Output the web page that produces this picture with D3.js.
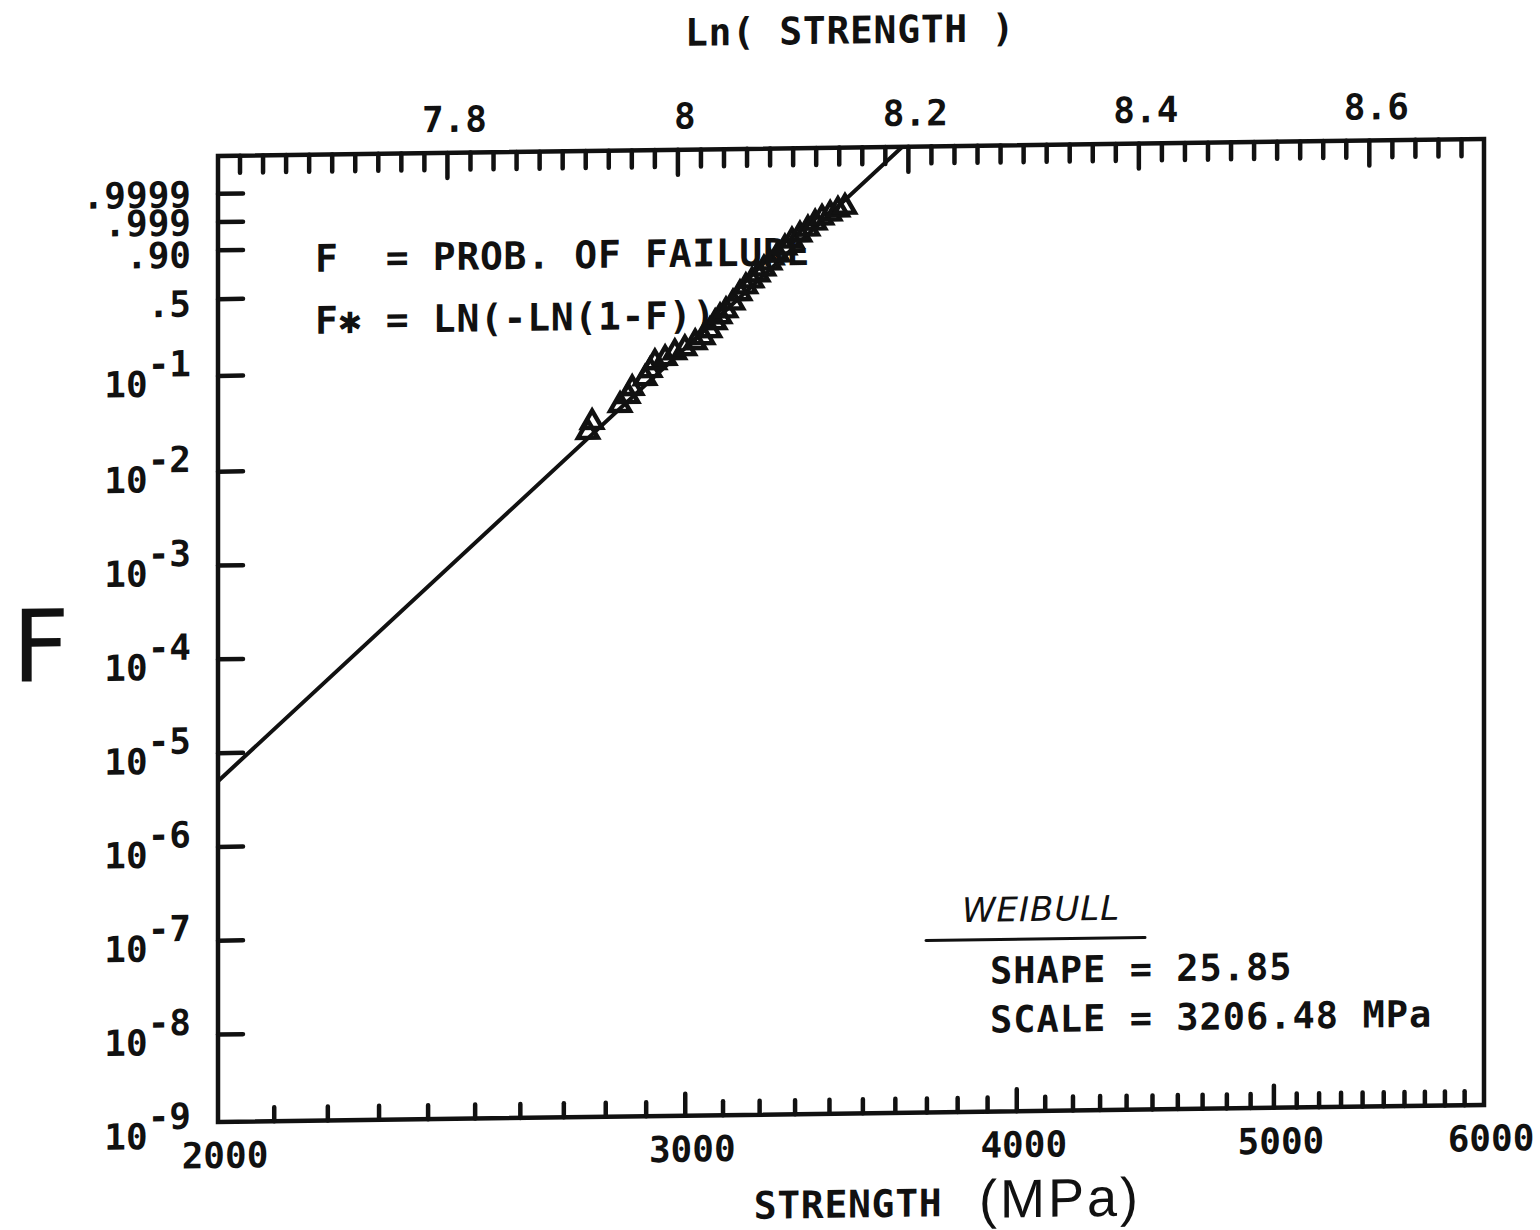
<!DOCTYPE html>
<html>
<head>
    <meta http-equiv="Content-Type" content="text/html;charset=utf-8">
    <script src="https://d3js.org/d3.v7.min.js"></script>
    <style>
        html, body {
            margin: 0;
            padding: 0;
            background: #fff;
        }

        svg {
            display: block;
        }

        .plot text {
            font-family: "DejaVu Sans Mono", monospace;
            font-weight: bold;
            fill: #111;
        }

        .frame, .tick, .fit, .rule {
            stroke: #111;
            fill: none;
            stroke-linecap: round;
        }
    </style>
</head>
<body>
<div id="chart"></div>
<script>
    // specimen strengths (MPa) and their failure probabilities
    var strengthMPa = [2757, 2767, 2835, 2855, 2865, 2897, 2910, 2922, 2948, 2973,
        2999, 3026, 3047, 3065, 3079, 3092, 3108, 3127, 3146, 3162,
        3179, 3196, 3212, 3229, 3251, 3271, 3291, 3314, 3337, 3358,
        3378, 3402, 3425, 3446];
    var probF = [0.0232, 0.0295, 0.0440, 0.0544, 0.0656, 0.0826, 0.0995, 0.1194, 0.1306, 0.1490,
        0.1626, 0.1853, 0.2065, 0.2394, 0.2826, 0.3187, 0.3582, 0.4160, 0.4885, 0.5479,
        0.6006, 0.6534, 0.7063, 0.7571, 0.8202, 0.8689, 0.9105, 0.9381, 0.9597, 0.9756,
        0.9848, 0.9900, 0.9937, 0.9956];

    // weibull fit
    var weibullShape = 25.85;
    var weibullScale = 3206.48;

    // axis ticks
    var probTicks = [0.9999, 0.99, 0.90, 0.5, 1e-1, 1e-2, 1e-3, 1e-4, 1e-5, 1e-6, 1e-7, 1e-8, 1e-9];
    var probLabels = [".9999", ".999", ".90", ".5", "10|-1", "10|-2", "10|-3", "10|-4",
        "10|-5", "10|-6", "10|-7", "10|-8", "10|-9"];
    var strengthTicks = [2000, 3000, 4000, 5000, 6000];
    var lnTicks = [7.8, 8, 8.2, 8.4, 8.6];

    var W = 1540, H = 1230;
    var pL = 218, pR = 1484, pT = 156, pB = 1122;

    var fstar = function (F) {
        return Math.log(-Math.log(1 - F));
    };

    var x = d3.scaleLog().domain([2000, 6000]).range([pL, pR]);
    var xLn = d3.scaleLinear().domain([Math.log(2000), Math.log(6000)]).range([pL, pR]);
    var y = d3.scaleLinear().domain([-20.57, 3.15]).range([pB, pT]);

    var svg = d3.select("#chart").append("svg")
        .attr("width", W)
        .attr("height", H);

    // the scanned sheet is slightly skewed
    var g = svg.append("g")
        .attr("class", "plot")
        .attr("transform", "translate(0," + (Math.tan(0.773 * Math.PI / 180) * pL) + ") skewY(-0.773)");

    g.append("clipPath").attr("id", "clip")
        .append("rect")
        .attr("x", pL).attr("y", pT)
        .attr("width", pR - pL).attr("height", pB - pT);

    // frame
    g.append("rect")
        .attr("class", "frame")
        .attr("x", pL).attr("y", pT)
        .attr("width", pR - pL).attr("height", pB - pT)
        .attr("stroke-width", 4.5);

    // bottom ticks every 100 MPa
    var minorStrength = d3.range(2100, 6000, 100);
    g.append("g").selectAll("line")
        .data(minorStrength)
        .enter().append("line")
        .attr("class", "tick")
        .attr("stroke-width", 4.5)
        .attr("x1", function (d) { return x(d); })
        .attr("x2", function (d) { return x(d); })
        .attr("y1", pB)
        .attr("y2", function (d) { return d % 1000 === 0 ? pB - 22 : pB - 14; });

    g.append("g").selectAll("text")
        .data(strengthTicks)
        .enter().append("text")
        .attr("x", function (d) { return x(d) + 7; })
        .attr("y", pB + 46)
        .attr("text-anchor", "middle")
        .attr("font-size", 36)
        .text(function (d) { return d; });

    // top ticks every 0.02 in ln(strength)
    var minorLn = d3.range(762, 870, 2).map(function (d) { return d / 100; });
    g.append("g").selectAll("line")
        .data(minorLn)
        .enter().append("line")
        .attr("class", "tick")
        .attr("stroke-width", 4.5)
        .attr("x1", function (d) { return xLn(d); })
        .attr("x2", function (d) { return xLn(d); })
        .attr("y1", pT)
        .attr("y2", function (d) { return Math.round(d * 100) % 20 === 0 ? pT + 25 : pT + 17; });

    g.append("g").selectAll("text")
        .data(lnTicks)
        .enter().append("text")
        .attr("x", function (d) { return xLn(d) + 7; })
        .attr("y", pT - 21)
        .attr("text-anchor", "middle")
        .attr("font-size", 36)
        .text(function (d) { return d; });

    // left probability ticks
    g.append("g").selectAll("line")
        .data(probTicks.filter(function (d) { return y(fstar(d)) < pB - 2; }))
        .enter().append("line")
        .attr("class", "tick")
        .attr("stroke-width", 4.5)
        .attr("x1", pL)
        .attr("x2", pL + 25)
        .attr("y1", function (d) { return y(fstar(d)); })
        .attr("y2", function (d) { return y(fstar(d)); });

    var ylab = g.append("g").selectAll("text")
        .data(probTicks)
        .enter().append("text")
        .attr("x", 191)
        .attr("text-anchor", "end")
        .attr("font-size", 36);

    ylab.each(function (d, i) {
        var parts = probLabels[i].split("|");
        var t = d3.select(this);
        if (parts.length === 1) {
            t.attr("y", y(fstar(d)) + (d > 0.95 ? 13 : 17)).text(parts[0]);
        } else {
            t.attr("y", y(fstar(d)) + 20);
            t.append("tspan").text(parts[0]);
            t.append("tspan").attr("dy", -20).text(parts[1]);
        }
    });

    // fitted weibull line
    var fitLine = d3.line()
        .x(function (d) { return x(d); })
        .y(function (d) { return y(weibullShape * Math.log(d / weibullScale)); });

    g.append("path")
        .datum([2000, 6000])
        .attr("class", "fit")
        .attr("clip-path", "url(#clip)")
        .attr("stroke-width", 4)
        .attr("d", fitLine);

    // data points
    var points = strengthMPa.map(function (s, i) { return {s: s, F: probF[i]}; });
    g.append("g").selectAll("path")
        .data(points)
        .enter().append("path")
        .attr("d", d3.symbol().type(d3.symbolTriangle).size(170))
        .attr("transform", function (d) {
            return "translate(" + x(d.s) + "," + y(fstar(d.F)) + ")";
        })
        .attr("fill", "none")
        .attr("stroke", "#111")
        .attr("stroke-width", 4.5);

    // axis titles
    g.append("text")
        .attr("x", 850).attr("y", 52)
        .attr("text-anchor", "middle")
        .attr("font-size", 38)
        .attr("letter-spacing", 0.7)
        .text("Ln( STRENGTH )");

    g.append("text")
        .attr("x", 848).attr("y", 1226)
        .attr("text-anchor", "middle")
        .attr("font-size", 38)
        .attr("letter-spacing", 0.7)
        .text("STRENGTH");

    g.append("text")
        .attr("x", 1060).attr("y", 1228)
        .attr("text-anchor", "middle")
        .style("font-family", "'Liberation Sans', sans-serif")
        .style("font-weight", "normal")
        .attr("font-size", 54)
        .attr("letter-spacing", 3)
        .text("(MPa)");

    g.append("text")
        .attr("x", 12).attr("y", 679)
        .style("font-family", "'DejaVu Sans', sans-serif")
        .style("font-weight", "normal")
        .attr("font-size", 100)
        .text("F");

    // legend text inside the plot
    var note = g.append("g").attr("font-size", 38).attr("letter-spacing", 0.7);
    note.append("text").attr("x", 315).attr("y", 273)
        .attr("xml:space", "preserve")
        .text("F  = PROB. OF FAILURE");
    var n2 = note.append("text").attr("x", 315).attr("y", 335)
        .attr("xml:space", "preserve");
    n2.append("tspan").text("F");
    n2.append("tspan").text("\u2731");
    n2.append("tspan").text(" = LN(-LN(1-F))");

    g.append("text")
        .attr("x", 962).attr("y", 932)
        .style("font-family", "'DejaVu Sans', sans-serif")
        .style("font-weight", "normal")
        .style("font-style", "italic")
        .attr("font-size", 34)
        .attr("letter-spacing", 1)
        .text("WEIBULL");

    g.append("line")
        .attr("class", "rule")
        .attr("stroke-width", 3)
        .attr("x1", 926).attr("x2", 1145)
        .attr("y1", 950).attr("y2", 950);

    var params = g.append("g").attr("font-size", 37).attr("letter-spacing", 1);
    params.append("text").attr("x", 990).attr("y", 994)
        .text("SHAPE = " + weibullShape.toFixed(2));
    params.append("text").attr("x", 990).attr("y", 1043)
        .text("SCALE = " + weibullScale.toFixed(2) + " MPa");
</script>
</body>
</html>
